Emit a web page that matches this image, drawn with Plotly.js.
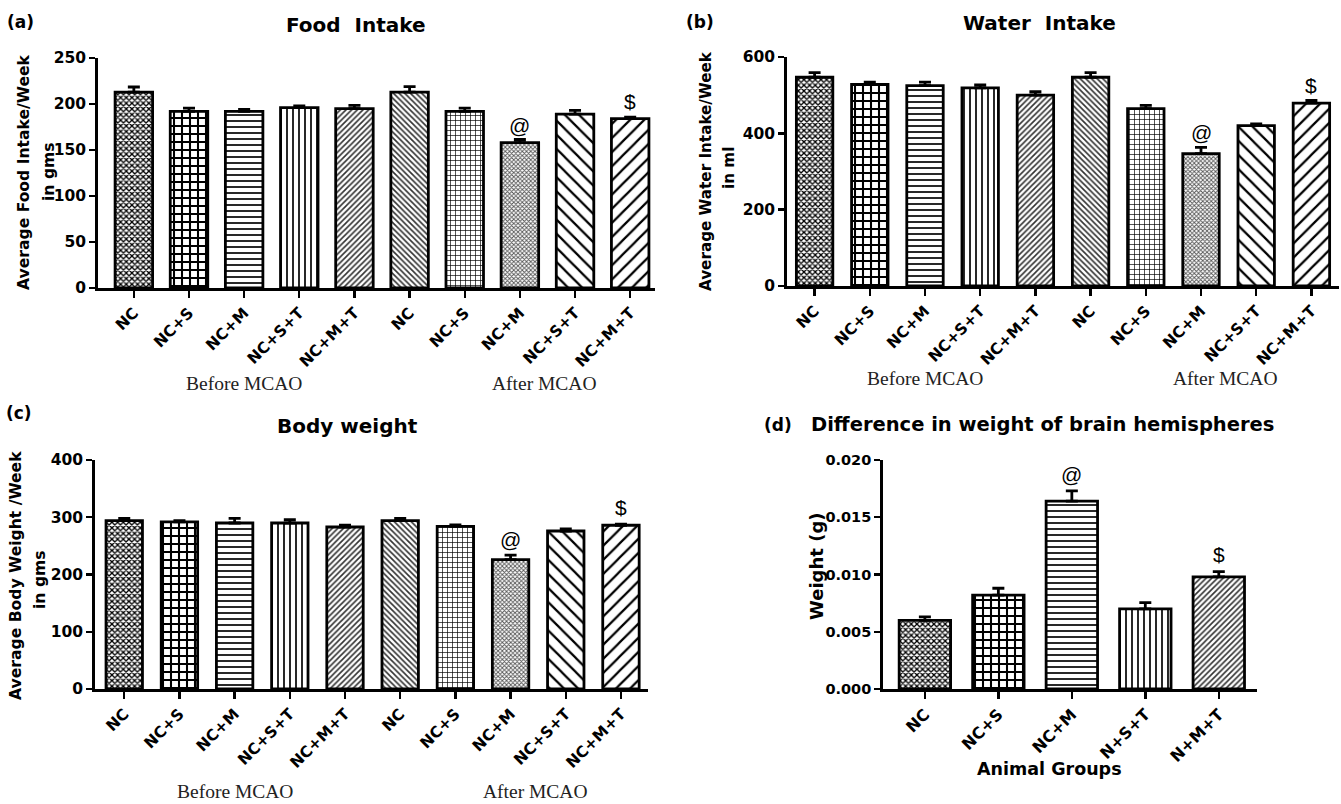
<!DOCTYPE html>
<html><head><meta charset="utf-8">
<script src="https://cdn.plot.ly/plotly-3.0.1.min.js"></script>
<style>html,body{margin:0;padding:0;background:#fff;}#chart{width:1341px;height:804px;}</style>
</head><body><div id="chart"></div>
<script>
// ---------- data ----------
const groupsTen = ['NC','NC+S','NC+M','NC+S+T','NC+M+T','NC','NC+S','NC+M','NC+S+T','NC+M+T'];
const groupsFive = ['NC','NC+S','NC+M','N+S+T','N+M+T'];
const phaseLabels = ['Before MCAO','After MCAO'];

const foodIntake = [213,192,192,196,195,213,192,158,189,184];
const foodErr    = [5.5,3.6,2,1.8,3.4,5.8,3.6,3.4,4,1.6];
const waterIntake = [547,528,525,519,500,547,465,347,420,479];
const waterErr    = [12,6,9,8,9,12,8,16,5,7];
const bodyWeight = [294,292,290,290,283,294,284,226,276,286];
const bodyErr    = [4,2,8,6,3,4,2.5,8,3.5,2];
const brainDiff = [0.0060,0.0082,0.0164,0.0070,0.0098];
const brainErr  = [0.0003,0.0006,0.0009,0.00055,0.00045];

const marksTen  = ['','','','','','','','@','','$'];
const marksFive = ['','','@','','$'];

const foodTicks  = [0,50,100,150,200,250];
const waterTicks = [0,200,400,600];
const bodyTicks  = [0,100,200,300,400];
const brainTicks = [0,0.005,0.010,0.015,0.020];

// ---------- styles ----------
const styleTen  = ['fineMesh','checker','hLines','vLines','fineDiagR','fineDiagL','grid','greyMesh','coarseDiagL','coarseDiagR'];
const styleFive = ['fineMesh','checker','hLines','vLines','fineDiagR'];
const PAT = {
  fineMesh:   {shape:'x',  size:4,  solidity:0.55, fg:'#000'},
  checker:    {shape:'+',  size:8,  solidity:0.45, fg:'#000'},
  hLines:     {shape:'-',  size:6,  solidity:0.28, fg:'#000'},
  vLines:     {shape:'|',  size:6,  solidity:0.28, fg:'#000'},
  fineDiagR:  {shape:'/',  size:4,  solidity:0.4,  fg:'#333'},
  fineDiagL:  {shape:'\\', size:4,  solidity:0.4,  fg:'#333'},
  grid:       {shape:'+',  size:5,  solidity:0.25, fg:'#000'},
  greyMesh:   {shape:'x',  size:3,  solidity:0.5,  fg:'#555'},
  coarseDiagL:{shape:'\\', size:10, solidity:0.22, fg:'#000'},
  coarseDiagR:{shape:'/',  size:10, solidity:0.22, fg:'#000'}
};
const W = 1341, H = 804;
const px = v => v / W;
const py = v => 1 - v / H;
const SANS = 'DejaVu Sans, Liberation Sans, Arial, sans-serif';
const SERIF = 'Liberation Serif, Times New Roman, serif';

function barTrace(vals, errs, styles, ax, width) {
  return {
    type:'bar', x: vals.map((_, i) => i), y: vals, width: width,
    xaxis:'x'+ax, yaxis:'y'+ax, hoverinfo:'none', showlegend:false,
    marker:{
      color:'white', line:{color:'black', width:2.8},
      pattern:{
        shape: styles.map(s => PAT[s].shape),
        size: styles.map(s => PAT[s].size),
        solidity: styles.map(s => PAT[s].solidity),
        fgcolor: styles.map(s => PAT[s].fg),
        bgcolor:'white', fillmode:'replace'
      }
    },
    error_y:{type:'data', symmetric:false, array: errs, arrayminus: errs.map(() => 0),
             color:'black', thickness:2.8, width:6}
  };
}

function xAxis(dom, rng, ticktext, anchor, fsize) {
  return {domain: dom, range: rng, anchor: anchor,
    tickmode:'array', tickvals: ticktext.map((_, i) => i), ticktext: ticktext,
    tickangle:-45, ticks:'outside', ticklen:7, tickwidth:2.4, tickcolor:'black',
    showline:true, linewidth:2.8, linecolor:'black', showgrid:false, zeroline:false,
    tickfont:{family:SANS, size:fsize, weight:'bold', color:'black'}, fixedrange:true};
}
function yAxis(dom, rng, ticks, anchor, fsize, fmt) {
  return {domain: dom, range: rng, anchor: anchor,
    tickmode:'array', tickvals: ticks, tickformat: fmt || '',
    ticks:'outside', ticklen:6, tickwidth:2.4, tickcolor:'black',
    showline:true, linewidth:2.8, linecolor:'black', showgrid:false, zeroline:false,
    tickfont:{family:SANS, size:fsize, weight:'bold', color:'black'}, fixedrange:true};
}

const data = [
  barTrace(foodIntake, foodErr, styleTen, '', 0.68),
  barTrace(waterIntake, waterErr, styleTen, '2', 0.66),
  barTrace(bodyWeight, bodyErr, styleTen, '3', 0.66),
  barTrace(brainDiff, brainErr, styleFive, '4', 0.70)
];

const ann = [];
function txt(x, y, text, size, opts) {
  ann.push(Object.assign({x: px(x), y: py(y), xref:'paper', yref:'paper', text: text,
    showarrow:false, xanchor:'center', yanchor:'middle',
    font:{family:SANS, size: size, color:'black'}}, opts || {}));
}
// panel letters and titles
txt(20, 22, '<b>(a)</b>', 17);
txt(700, 22, '<b>(b)</b>', 17);
txt(19, 413, '<b>(c)</b>', 17);
txt(778, 425, '<b>(d)</b>', 17);
txt(356, 25, '<b>Food\u00a0 Intake</b>', 20);
txt(1039, 23, '<b>Water\u00a0 Intake</b>', 20);
txt(347, 426, '<b>Body weight</b>', 20);
txt(1042, 425, '<b>Difference in weight of brain hemispheres</b>', 19.5);
// y titles
txt(24, 172, '<b>Average Food Intake/Week</b>', 15.6, {textangle:-90});
txt(49, 172, '<b>in gms</b>', 15.6, {textangle:-90});
txt(706, 171, '<b>Average Water Intake/Week</b>', 15.2, {textangle:-90});
txt(729, 168, '<b>in ml</b>', 15.2, {textangle:-90});
txt(16, 576, '<b>Average Body Weight /Week</b>', 15.6, {textangle:-90});
txt(40, 580, '<b>in gms</b>', 15.6, {textangle:-90});
txt(816, 566, '<b>Weight (g)</b>', 18, {textangle:-90});
txt(1049, 769, '<b>Animal Groups</b>', 17.5);

// phase labels under ten-bar panels
function phase(axis, yPix) {
  [[2, phaseLabels[0]], [7.45, phaseLabels[1]]].forEach(([xi, t]) => {
    ann.push({x: xi, xref: axis, y: py(yPix), yref:'paper', text: t, showarrow:false,
      xanchor:'center', yanchor:'middle', font:{family:SERIF, size:19.5, color:'#222'}});
  });
}
phase('x', 383); phase('x2', 379); phase('x3', 791);

// significance marks
function marks(vals, errs, mk, xa, ya, shift) {
  mk.forEach((m, i) => {
    if (!m) return;
    ann.push({x: i, y: vals[i] + errs[i], xref: xa, yref: ya, text: m, showarrow:false,
      xanchor:'center', yanchor:'bottom', yshift: (m === '$' ? shift + 1 : shift),
      font:{family:'Liberation Sans, Arial, sans-serif', size:21, color:'black'}});
  });
}
marks(foodIntake, foodErr, marksTen, 'x', 'y', 1);
marks(waterIntake, waterErr, marksTen, 'x2', 'y2', 1);
marks(bodyWeight, bodyErr, marksTen, 'x3', 'y3', 2);
marks(brainDiff, brainErr, marksFive, 'x4', 'y4', 3);

const layout = {
  width: W, height: H, margin:{l:0, r:0, t:0, b:0},
  paper_bgcolor:'white', plot_bgcolor:'rgba(0,0,0,0)', showlegend:false,
  xaxis:  xAxis([px(98), px(655)],  [-0.65, 9.45], groupsTen, 'y', 15.5),
  yaxis:  yAxis([py(288), py(58)],  [0, 250], foodTicks, 'x', 15.5),
  xaxis2: xAxis([px(787), px(1339)], [-0.5, 9.5], groupsTen, 'y2', 15.5),
  yaxis2: yAxis([py(286), py(57)],  [0, 600], waterTicks, 'x2', 15.5),
  xaxis3: xAxis([px(95), px(648)],  [-0.53, 9.49], groupsTen, 'y3', 15.5),
  yaxis3: yAxis([py(689), py(460)], [0, 400], bodyTicks, 'x3', 15.5),
  xaxis4: xAxis([px(883), px(1257)], [-0.57, 4.52], groupsFive, 'y4', 16),
  yaxis4: yAxis([py(689), py(460)], [0, 0.020], brainTicks, 'x4', 14.5, '.3f'),
  annotations: ann
};

Plotly.newPlot('chart', data, layout, {displayModeBar:false, staticPlot:true});
</script>
</body></html>
